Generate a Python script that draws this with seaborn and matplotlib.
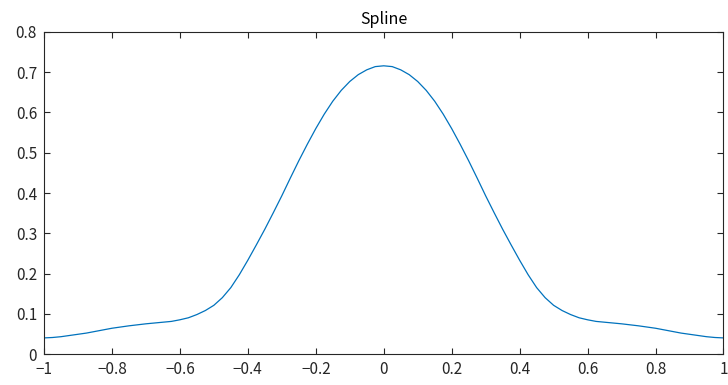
import numpy as np
import matplotlib
matplotlib.use("Agg")
import matplotlib.pyplot as plt
import matplotlib.ticker as mticker
import seaborn as sns

# values, every 0.025
x_vals = [round(-1 + 0.025 * i, 3) for i in range(81)]
y_left = [0.040, 0.041, 0.043, 0.046, 0.049, 0.052, 0.056, 0.060, 0.064, 0.067,
          0.070, 0.0725, 0.075, 0.077, 0.079, 0.081, 0.085, 0.090, 0.098, 0.108,
          0.121, 0.140, 0.165, 0.197, 0.233, 0.271, 0.310, 0.351, 0.393, 0.437,
          0.480, 0.521, 0.560, 0.596, 0.628, 0.655, 0.677, 0.694, 0.706, 0.714]
y_peak = [0.716]
y_right = [0.714, 0.706, 0.694, 0.677, 0.655, 0.628, 0.596, 0.560, 0.521, 0.480,
           0.437, 0.393, 0.351, 0.310, 0.271, 0.233, 0.197, 0.165, 0.140, 0.121,
           0.108, 0.098, 0.090, 0.085, 0.081, 0.079, 0.077, 0.075, 0.0725, 0.070,
           0.067, 0.064, 0.060, 0.056, 0.052, 0.049, 0.046, 0.043, 0.041, 0.040]
y_vals = y_left + y_peak + y_right
x_ticks = [-1, -0.8, -0.6, -0.4, -0.2, 0, 0.2, 0.4, 0.6, 0.8, 1]
y_ticks = [0, 0.1, 0.2, 0.3, 0.4, 0.5, 0.6, 0.7, 0.8]
title = "Spline"

sns.set_style("ticks")
plt.rcParams['font.family'] = ['Noto Sans CJK JP', 'DejaVu Sans']
plt.rcParams['axes.unicode_minus'] = True

fig = plt.figure(figsize=(7.28, 3.85), dpi=100)
ax = fig.add_axes([0.0604, 0.0805, 0.9334, 0.8364])

sns.lineplot(x=x_vals, y=y_vals, ax=ax, color="#0072BD", linewidth=0.9,
             estimator=None, sort=False)

ax.set_xlim(-1, 1)
ax.set_ylim(0, 0.8)
ax.set_xticks(x_ticks)
ax.set_yticks(y_ticks)
fmt = mticker.FuncFormatter(lambda v, p: ("%g" % v).replace("-", "\u2212"))
ax.xaxis.set_major_formatter(fmt)
ax.yaxis.set_major_formatter(fmt)

ax.tick_params(direction="in", length=4, width=0.8, top=True, right=True,
               labelsize=11, colors="#262626", pad=5)
for s in ax.spines.values():
    s.set_visible(True)
    s.set_color("#262626")
    s.set_linewidth(0.8)

ax.set_title(title, fontsize=11.5, color="black", pad=6)

fig.savefig("out.png", dpi=100)
